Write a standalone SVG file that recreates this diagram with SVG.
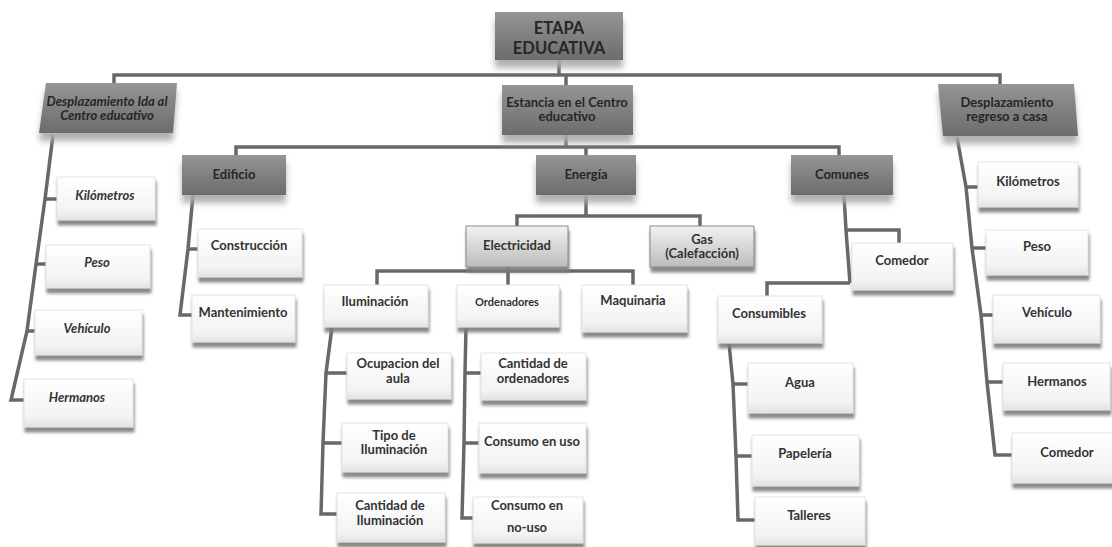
<svg xmlns="http://www.w3.org/2000/svg" width="1112" height="547" viewBox="0 0 1112 547">
  <defs>
    <linearGradient id="gDark" x1="0" y1="0" x2="0" y2="1">
      <stop offset="0" stop-color="#959595"/>
      <stop offset="1" stop-color="#6c6c6c"/>
    </linearGradient>
    <linearGradient id="gLite" x1="0" y1="0" x2="0" y2="1">
      <stop offset="0" stop-color="#f2f2f2"/>
      <stop offset="1" stop-color="#bcbcbc"/>
    </linearGradient>
    <linearGradient id="gWhite" x1="0" y1="0" x2="0" y2="1">
      <stop offset="0" stop-color="#ffffff"/>
      <stop offset="0.8" stop-color="#f3f3f3"/>
      <stop offset="1" stop-color="#e2e2e2"/>
    </linearGradient>
    <filter id="shDark" x="-10%" y="-10%" width="120%" height="150%">
      <feDropShadow dx="0" dy="8" stdDeviation="3" flood-color="#a8a8a8" flood-opacity="0.9"/>
    </filter>
    <filter id="shWhite" x="-10%" y="-10%" width="125%" height="140%">
      <feDropShadow dx="1" dy="5" stdDeviation="1.6" flood-color="#7d7d7d" flood-opacity="0.9"/>
    </filter>
    <style>
      .conn { fill: none; stroke: #686868; stroke-width: 3.5; stroke-linejoin: miter; }
      .dark { fill: url(#gDark); filter: url(#shDark); }
      .lite { fill: url(#gLite); stroke: #8a8a8a; stroke-width: 1; filter: url(#shWhite); }
      .white { fill: url(#gWhite); stroke: #e4e4e4; stroke-width: 1; filter: url(#shWhite); }
      text { font-family: Lato, "Liberation Sans", sans-serif; font-weight: bold; fill: #333; text-anchor: middle; font-size: 13px; }
      .big { font-size: 16.5px; fill: #262626; }
      .hd { font-size: 13px; fill: #262626; }
      .it { font-style: italic; }
      .sm { font-size: 11px; }
    </style>
  </defs>

  <!-- connectors -->
  <g id="connectors" class="conn">
    <path d="M559,60 V75"/>
    <path d="M114,83 V75 H1000 V84"/>
    <path d="M566,75 V85"/>
    <path d="M566,135 V147"/>
    <path d="M236,155 V147 H839 V155"/>
    <path d="M586,147 V155"/>
    <!-- left travel column -->
    <path d="M53,135 L45,199 L36,264 L27,331 L11,400 H25"/>
    <path d="M45,199 H57 M36,264 H46 M27,331 H35"/>
    <!-- building -->
    <path d="M193,195 L188,249 L180,315 H192"/>
    <path d="M188,249 H198"/>
    <!-- energy -->
    <path d="M586,195 V216"/>
    <path d="M517,226 V216 H700 V226"/>
    <path d="M377,285 V271 H633 V285"/>
    <path d="M508,267 V285"/>
    <!-- lighting -->
    <path d="M332,327 L326,373 L323,443 L321,514 H337"/>
    <path d="M326,373 H347 M323,443 H342"/>
    <!-- computers -->
    <path d="M466,327 L465,373 L464,443 L462,518 H473"/>
    <path d="M465,373 H481 M464,443 H479"/>
    <!-- common -->
    <path d="M844,195 L846,230 L850,283"/>
    <path d="M846,230 H899 V243"/>
    <path d="M850,283 H767 V296"/>
    <path d="M729,343 L733,384 L736,456 L738,520 H755"/>
    <path d="M733,384 H748 M736,456 H752"/>
    <!-- right travel column -->
    <path d="M957,137 L966,187 L972,248 L981,315 L987,382 L995,455 H1012"/>
    <path d="M966,187 H978 M972,248 H986 M981,315 H993 M987,382 H1003"/>
  </g>

  <!-- header nodes -->
  <g id="root">
    <rect class="dark" x="495" y="12" width="128" height="48"/>
    <text class="big" x="559" y="34">ETAPA</text>
    <text class="big" x="559" y="54">EDUCATIVA</text>
  </g>
  <g id="ida">
    <polygon class="dark" points="46,83 177,83 173,133 39,133"/>
    <text class="hd it" x="107" y="106">Desplazamiento Ida al</text>
    <text class="hd it" x="107" y="120">Centro educativo</text>
  </g>
  <g id="estancia">
    <rect class="dark" x="502" y="85" width="131" height="50"/>
    <text class="hd" x="567" y="107">Estancia en el Centro</text>
    <text class="hd" x="567" y="121">educativo</text>
  </g>
  <g id="regreso">
    <polygon class="dark" points="938,84 1074,84 1078,136 943,136"/>
    <text class="hd" x="1007" y="107">Desplazamiento</text>
    <text class="hd" x="1007" y="121">regreso a casa</text>
  </g>
  <g id="edificio">
    <rect class="dark" x="182" y="155" width="104" height="40"/>
    <text class="hd" x="234" y="179">Edificio</text>
  </g>
  <g id="energia">
    <rect class="dark" x="536" y="155" width="100" height="40"/>
    <text class="hd" x="586" y="179">Energía</text>
  </g>
  <g id="comunes">
    <rect class="dark" x="791" y="155" width="102" height="40"/>
    <text class="hd" x="842" y="179">Comunes</text>
  </g>

  <!-- energy sources -->
  <g id="electricidad">
    <rect class="lite" x="466" y="226" width="102" height="41"/>
    <text x="517" y="250">Electricidad</text>
  </g>
  <g id="gas">
    <rect class="lite" x="650" y="226" width="104" height="41"/>
    <text x="702" y="244">Gas</text>
    <text x="702" y="258">(Calefacción)</text>
  </g>

  <!-- left travel items -->
  <g id="kilometros-ida">
    <rect class="white" x="57" y="177" width="98" height="43"/>
    <text class="it" x="105" y="200">Kilómetros</text>
  </g>
  <g id="peso-ida">
    <rect class="white" x="46" y="245" width="104" height="43"/>
    <text class="it" x="97" y="267">Peso</text>
  </g>
  <g id="vehiculo-ida">
    <rect class="white" x="35" y="310" width="107" height="45"/>
    <text class="it" x="87" y="333">Vehículo</text>
  </g>
  <g id="hermanos-ida">
    <rect class="white" x="24" y="379" width="109" height="48"/>
    <text class="it" x="77" y="402">Hermanos</text>
  </g>

  <!-- building items -->
  <g id="construccion">
    <rect class="white" x="198" y="229" width="104" height="48"/>
    <text x="249" y="250">Construcción</text>
  </g>
  <g id="mantenimiento">
    <rect class="white" x="192" y="295" width="103" height="47"/>
    <text x="243" y="317">Mantenimiento</text>
  </g>

  <!-- electricity items -->
  <g id="iluminacion">
    <rect class="white" x="324" y="285" width="104" height="42"/>
    <text x="375" y="306">Iluminación</text>
  </g>
  <g id="ordenadores">
    <rect class="white" x="457" y="285" width="102" height="42"/>
    <text class="sm" x="507" y="306">Ordenadores</text>
  </g>
  <g id="maquinaria">
    <rect class="white" x="582" y="285" width="105" height="47"/>
    <text x="633" y="305">Maquinaria</text>
  </g>

  <!-- lighting items -->
  <g id="ocupacion">
    <rect class="white" x="347" y="353" width="104" height="46"/>
    <text x="398" y="368">Ocupacion del</text>
    <text x="398" y="383">aula</text>
  </g>
  <g id="tipo-iluminacion">
    <rect class="white" x="342" y="423" width="106" height="49"/>
    <text x="394" y="440">Tipo de</text>
    <text x="394" y="454">Iluminación</text>
  </g>
  <g id="cantidad-iluminacion">
    <rect class="white" x="337" y="493" width="108" height="49"/>
    <text x="390" y="510">Cantidad de</text>
    <text x="390" y="525">Iluminación</text>
  </g>

  <!-- computer items -->
  <g id="cantidad-ordenadores">
    <rect class="white" x="481" y="353" width="105" height="47"/>
    <text x="533" y="368">Cantidad de</text>
    <text x="533" y="383">ordenadores</text>
  </g>
  <g id="consumo-uso">
    <rect class="white" x="479" y="423" width="107" height="50"/>
    <text x="532" y="446">Consumo en uso</text>
  </g>
  <g id="consumo-no-uso">
    <rect class="white" x="473" y="497" width="110" height="46"/>
    <text x="527" y="510">Consumo en</text>
    <text x="527" y="532">no-uso</text>
  </g>

  <!-- common items -->
  <g id="comedor-comun">
    <rect class="white" x="852" y="243" width="101" height="47"/>
    <text x="902" y="265">Comedor</text>
  </g>
  <g id="consumibles">
    <rect class="white" x="718" y="296" width="104" height="47"/>
    <text x="769" y="318">Consumibles</text>
  </g>
  <g id="agua">
    <rect class="white" x="748" y="363" width="105" height="50"/>
    <text x="800" y="387">Agua</text>
  </g>
  <g id="papeleria">
    <rect class="white" x="752" y="435" width="107" height="51"/>
    <text x="805" y="458">Papelería</text>
  </g>
  <g id="talleres">
    <rect class="white" x="755" y="497" width="110" height="48"/>
    <text x="809" y="520">Talleres</text>
  </g>

  <!-- right travel items -->
  <g id="kilometros-regreso">
    <rect class="white" x="978" y="162" width="100" height="45"/>
    <text x="1028" y="186">Kilómetros</text>
  </g>
  <g id="peso-regreso">
    <rect class="white" x="986" y="230" width="102" height="45"/>
    <text x="1037" y="251">Peso</text>
  </g>
  <g id="vehiculo-regreso">
    <rect class="white" x="993" y="295" width="107" height="48"/>
    <text x="1047" y="317">Vehículo</text>
  </g>
  <g id="hermanos-regreso">
    <rect class="white" x="1003" y="363" width="107" height="47"/>
    <text x="1057" y="386">Hermanos</text>
  </g>
  <g id="comedor-regreso">
    <rect class="white" x="1012" y="433" width="105" height="50"/>
    <text x="1067" y="457">Comedor</text>
  </g>
</svg>
